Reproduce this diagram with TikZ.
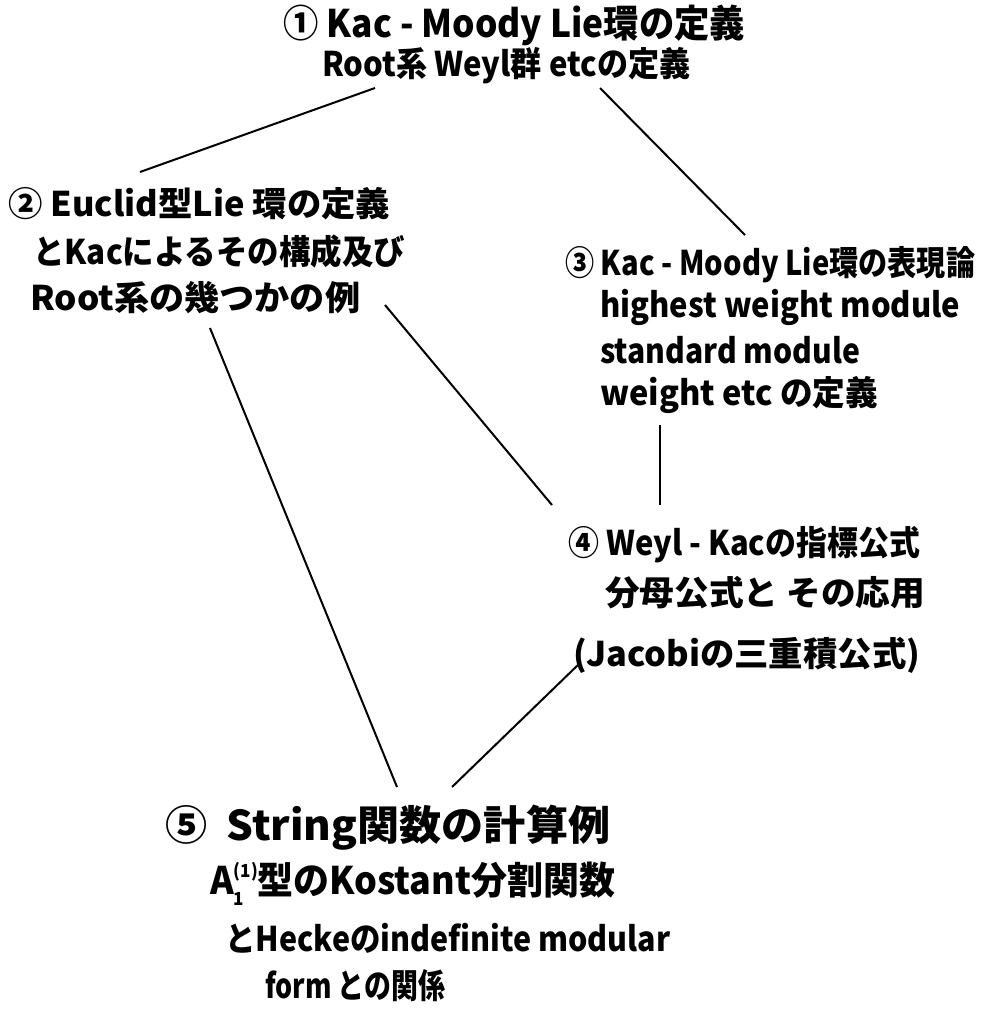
\documentclass[tikz,border=0pt]{standalone}
\usepackage{fontspec}
\usepackage{graphicx}
\setmainfont{Noto Sans CJK JP}
\newcommand{\fitw}[2]{\resizebox{#1pt}{\height}{#2}}
\newcommand{\aoneone}{A{\fontsize{18}{18}\selectfont\raisebox{-11pt}{\shortstack[l]{(1)\\[9pt]1}}}}
\begin{document}
\begin{tikzpicture}[x=1pt,y=-1pt,
  txt/.style={anchor=west,inner sep=0pt,font=\fontsize{34}{34}\selectfont\bfseries},
  big/.style={font=\fontsize{38}{38}\selectfont\bfseries},
  link/.style={line width=2pt,black}]
\useasboundingbox (0,0) rectangle (988,1015);
% node 1
\node[txt,big] (n1a) at (283,25) {\fitw{462}{① Kac - Moody Lie環の定義}};
\node[txt] (n1b) at (322,66) {\fitw{368}{Root系 Weyl群 etcの定義}};
% node 2
\node[txt] (n2a) at (8,204) {\fitw{382}{② Euclid型Lie 環の定義}};
\node[txt] (n2b) at (33,252) {\fitw{372}{とKacによるその構成及び}};
\node[txt] (n2c) at (30,298) {\fitw{330}{Root系の幾つかの例}};
% node 3
\node[txt] (n3a) at (565,265) {\fitw{410}{③ Kac - Moody Lie環の表現論}};
\node[txt] (n3b) at (600,307) {\fitw{360}{highest weight module}};
\node[txt] (n3c) at (600,350) {\fitw{260}{standard module}};
\node[txt] (n3d) at (600,395) {\fitw{278}{weight etc の定義}};
% node 4
\node[txt] (n4a) at (568,545) {\fitw{352}{④ Weyl - Kacの指標公式}};
\node[txt] (n4b) at (605,593) {\fitw{320}{分母公式と その応用}};
\node[txt] (n4c) at (573,655) {\fitw{347}{(Jacobiの三重積公式)}};
% node 5
\node[txt,font=\fontsize{41}{41}\selectfont\bfseries] (n5a) at (165,828) {\fitw{445}{⑤ \ String関数の計算例}};
\node[txt,big] (n5b) at (210,884) {\fitw{405}{\aoneone 型のKostant分割関数}};
\node[txt] (n5c) at (225,938) {\fitw{445}{とHeckeのindefinite modular}};
\node[txt] (n5d) at (265,986) {\fitw{180}{form との関係}};
% connector ends
\coordinate (a1) at (375,88);  \coordinate (a2) at (140,172);
\coordinate (b1) at (600,88);  \coordinate (b3) at (745,235);
\coordinate (c2) at (385,305); \coordinate (c4) at (552,505);
\coordinate (d3) at (660,425); \coordinate (d4) at (660,505);
\coordinate (e2) at (210,328); \coordinate (e5) at (397,787);
\coordinate (f4) at (580,663); \coordinate (f5) at (452,787);
\draw[link] (a1) -- (a2);
\draw[link] (b1) -- (b3);
\draw[link] (c2) -- (c4);
\draw[link] (d3) -- (d4);
\draw[link] (e2) -- (e5);
\draw[link] (f4) -- (f5);
\end{tikzpicture}
\end{document}
